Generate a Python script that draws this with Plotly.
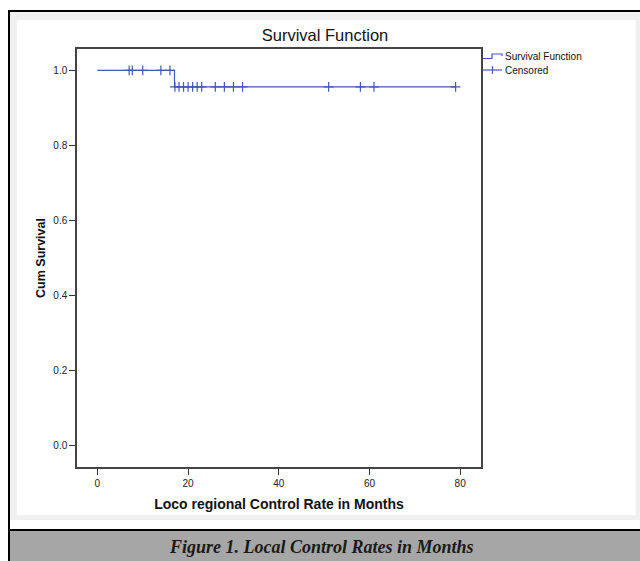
import plotly.graph_objects as go

# ---- data ----
step_months = [0, 17, 79]
step_survival = [1.0, 0.956, 0.956]
censored_months = [7, 7.7, 10, 14, 16, 17.1, 18, 19, 20, 21, 22, 23, 26, 28, 30, 32, 51, 58, 61, 79]
censored_survival = [1.0, 1.0, 1.0, 1.0, 1.0] + [0.956] * 15
x_ticks = [0, 20, 40, 60, 80]
y_ticks = [0.0, 0.2, 0.4, 0.6, 0.8, 1.0]
legend_labels = ["Survival Function", "Censored"]

W, H = 640, 561
L, R, T, B = 77, 159, 49, 94
PW, PH = W - L - R, H - T - B

def px(x):
    return (x - L) / PW

def py(y):
    return (H - B - y) / PH

BLUE = "#3f5aaf"
fig = go.Figure()
fig.add_trace(go.Scatter(x=step_months, y=step_survival, mode="lines", line=dict(color=BLUE, width=1.2, shape="hv"),
                         name=legend_labels[0]))
fig.add_trace(go.Scatter(x=censored_months, y=censored_survival, mode="markers",
                         marker=dict(symbol="cross-thin", size=7, line=dict(color=BLUE, width=1.2), color=BLUE),
                         name=legend_labels[1]))

shapes = []
# outer chart image area (light gray border, white interior)
shapes.append(dict(type="rect", xref="paper", yref="paper", x0=px(10), x1=px(660), y0=py(520), y1=py(12),
                   fillcolor="#f0f0f0", line=dict(width=0), layer="below"))
shapes.append(dict(type="rect", xref="paper", yref="paper", x0=px(17), x1=px(635.5), y0=py(515), y1=py(20),
                   fillcolor="white", line=dict(width=0), layer="below"))
# caption band
shapes.append(dict(type="rect", xref="paper", yref="paper", x0=px(9), x1=px(660), y0=py(580), y1=py(530),
                   fillcolor="#a6a6a6", line=dict(width=0), layer="below"))
shapes.append(dict(type="line", xref="paper", yref="paper", x0=px(8), x1=px(660), y0=py(530), y1=py(530),
                   line=dict(color="black", width=2)))
# outer black frame (left & top)
shapes.append(dict(type="line", xref="paper", yref="paper", x0=px(9), x1=px(9), y0=py(580), y1=py(11),
                   line=dict(color="black", width=2)))
shapes.append(dict(type="line", xref="paper", yref="paper", x0=px(8), x1=px(660), y0=py(11), y1=py(11),
                   line=dict(color="black", width=2)))

# manual legend symbols (SPSS style)
step_path = "M {} {} L {} {} L {} {} L {} {} L {} {}".format(
    px(483), py(58.5), px(492), py(58.5), px(492), py(54), px(502), py(54), px(502), py(56))
shapes.append(dict(type="path", xref="paper", yref="paper", path=step_path, line=dict(color=BLUE, width=1.2)))
shapes.append(dict(type="line", xref="paper", yref="paper", x0=px(483), x1=px(502), y0=py(70), y1=py(70),
                   line=dict(color=BLUE, width=1.2)))
shapes.append(dict(type="line", xref="paper", yref="paper", x0=px(492.5), x1=px(492.5), y0=py(66), y1=py(74),
                   line=dict(color=BLUE, width=1.2)))

annotations = [
    dict(text="<b><i>Figure 1. Local Control Rates in Months</i></b>", xref="paper", yref="paper",
         x=px(321), y=py(547), xanchor="center", yanchor="middle", showarrow=False,
         font=dict(family="Liberation Serif, serif", size=18, color="#1a1a1a")),
]
for label, ly in zip(legend_labels, [57, 70]):
    annotations.append(dict(text=label, xref="paper", yref="paper", x=px(503), y=py(ly),
                            xanchor="left", yanchor="middle", showarrow=False,
                            font=dict(size=10, color="#111")))

fig.update_layout(
    width=W, height=H,
    margin=dict(l=L, r=R, t=T, b=B),
    paper_bgcolor="white",
    plot_bgcolor="#f0f0f0",
    font=dict(family="Liberation Sans, Arial, sans-serif", size=10, color="#222"),
    title=dict(text="Survival Function", x=(325) / W, xref="container", xanchor="center",
               y=1 - 35 / H, yref="container", yanchor="middle",
               font=dict(size=16.5, color="#111")),
    showlegend=False,
    shapes=shapes,
    annotations=annotations,
)
fig.update_xaxes(range=[-4.5, 84.6], tickvals=x_ticks, ticktext=[str(v) for v in x_ticks],
                 showline=True, mirror=True, linecolor="#444", linewidth=1.5,
                 ticks="outside", ticklen=6, tickcolor="#333", showgrid=False, zeroline=False,
                 tickfont=dict(size=10, color="#222"),
                 title=dict(text="<b>Loco regional Control Rate in Months</b>", standoff=11,
                            font=dict(size=14, color="#111")))
fig.update_yaxes(range=[-0.058, 1.057], tickvals=y_ticks, ticktext=[f"{v:.1f}" for v in y_ticks],
                 showline=True, mirror=True, linecolor="#444", linewidth=1.5,
                 ticks="outside", ticklen=6, tickcolor="#333", showgrid=False, zeroline=False,
                 tickfont=dict(size=10, color="#222"),
                 title=dict(text="<b>Cum Survival</b>", standoff=5, font=dict(size=12.5, color="#111")))

fig.write_html("out.html", config={"displayModeBar": False},
               post_script="document.body.style.margin='0';")
